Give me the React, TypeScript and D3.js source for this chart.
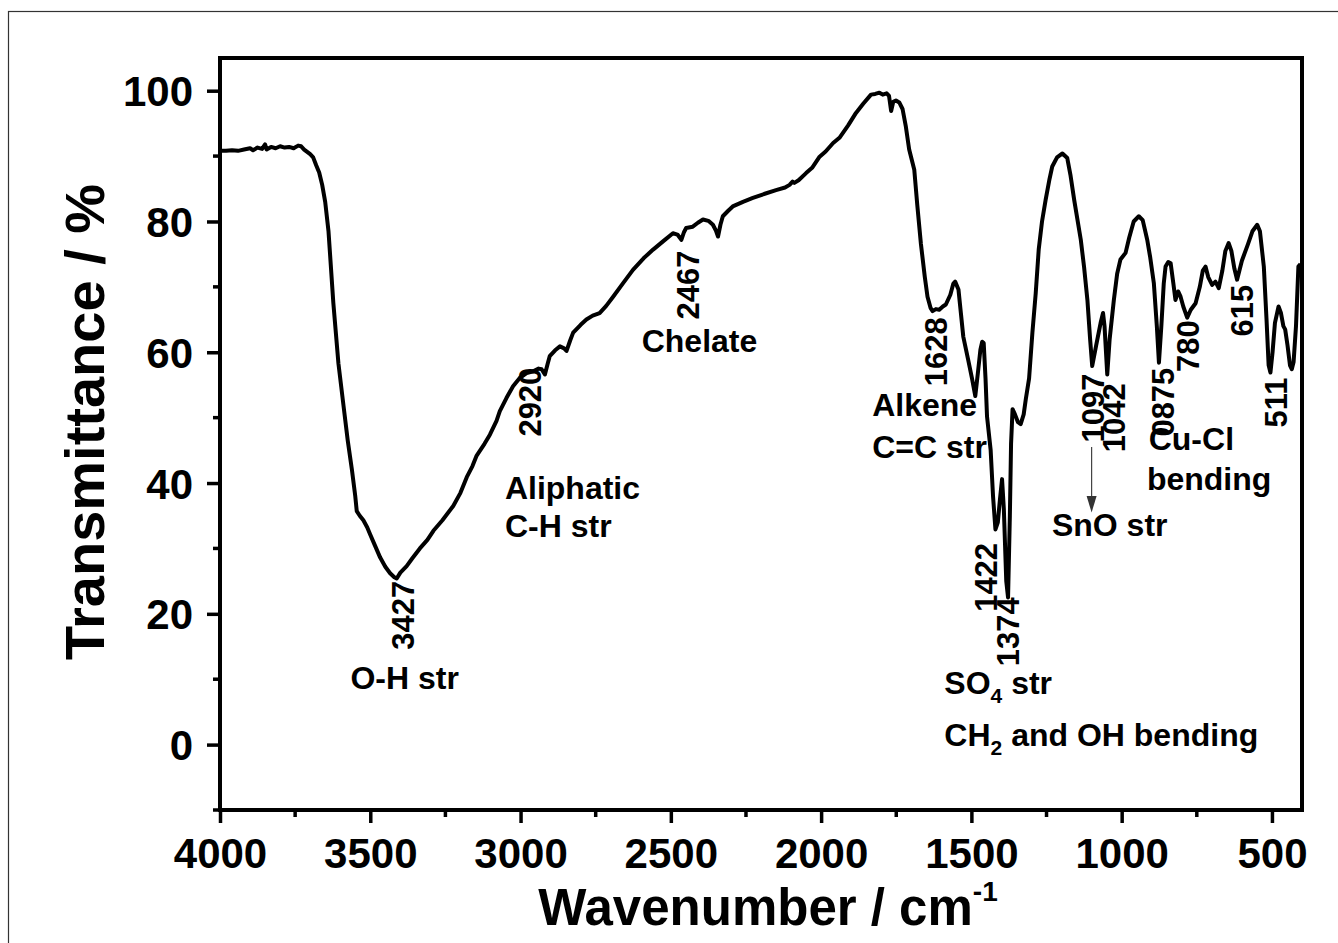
import React, { useEffect, useRef } from 'react';
import * as d3 from 'd3';

// spectrum (cm-1, %T)
const wavenumber = [
  4000, 3980, 3960, 3940, 3920, 3900, 3890, 3875, 3860, 3850, 3845, 3830, 3815, 3800, 3785, 3770, 3755, 3740, 3730, 3720,
  3700, 3690, 3680, 3670, 3660, 3650, 3639, 3623, 3606, 3589, 3575, 3561, 3550, 3545, 3535, 3523, 3510, 3501, 3485, 3467,
  3450, 3434, 3420, 3412, 3400, 3379, 3360, 3335, 3310, 3290, 3260, 3224, 3200, 3179, 3160, 3146, 3120, 3102, 3080, 3069,
  3047, 3025, 3002, 2980, 2958, 2940, 2930, 2919, 2910, 2903, 2885, 2869, 2855, 2847, 2835, 2825, 2800, 2781, 2760, 2737,
  2715, 2692, 2660, 2626, 2590, 2559, 2525, 2493, 2478, 2465, 2456, 2449, 2427, 2410, 2393, 2375, 2360, 2350, 2343, 2335,
  2327, 2310, 2294, 2260, 2227, 2190, 2150, 2120, 2105, 2095, 2089, 2075, 2050, 2030, 2005, 1985, 1960, 1939, 1910, 1884,
  1860, 1834, 1820, 1806, 1795, 1782, 1774, 1767, 1760, 1751, 1740, 1729, 1718, 1707, 1690, 1680, 1668, 1655, 1646, 1636,
  1629, 1618, 1607, 1595, 1585, 1570, 1560, 1554, 1543, 1535, 1527, 1511, 1498, 1487, 1478, 1470, 1464, 1459, 1453, 1448,
  1436, 1428, 1420, 1412, 1405, 1398, 1392, 1384, 1378, 1372, 1368, 1363, 1355, 1345, 1336, 1326, 1319, 1308, 1297, 1286,
  1276, 1265, 1253, 1240, 1231, 1215, 1197, 1181, 1170, 1158, 1136, 1125, 1114, 1105, 1098, 1085, 1070, 1062, 1057, 1048,
  1040, 1026, 1015, 1004, 987, 975, 960, 943, 930, 915, 905, 893, 883, 876, 868, 860, 854, 845, 837, 828,
  821, 812, 804, 795, 782, 770, 754, 740, 730, 721, 712, 699, 688, 677, 665, 655, 644, 635, 625, 616,
  600, 580, 565, 549, 540, 527, 518, 511, 505, 498, 490, 478, 470, 462, 456, 448, 440, 434, 428, 420,
  412, 405,
];
const transmittance = [
  90.8, 90.8, 90.9, 90.8, 91.0, 91.2, 90.9, 91.3, 91.1, 91.8, 91.0, 91.4, 91.2, 91.5, 91.3, 91.4, 91.2, 91.6, 91.5, 91.0,
  90.3, 89.8, 88.6, 87.5, 85.6, 83.0, 78.5, 67.6, 58.3, 51.8, 46.5, 42.0, 38.0, 35.7, 35.0, 34.3, 33.2, 32.2, 30.5, 28.6,
  27.2, 26.2, 25.6, 25.4, 26.3, 27.3, 28.5, 30.0, 31.3, 32.7, 34.3, 36.5, 38.5, 40.9, 42.6, 44.2, 46.0, 47.4, 49.5, 51.0,
  53.0, 54.8, 56.1, 56.8, 57.1, 57.5, 57.4, 56.6, 58.2, 59.4, 60.3, 60.9, 60.6, 60.2, 61.8, 63.0, 64.2, 65.0, 65.6, 66.0,
  67.1, 68.5, 70.5, 72.6, 74.4, 75.7, 77.0, 78.2, 78.0, 77.2, 78.4, 79.0, 79.2, 79.8, 80.3, 80.1, 79.5, 78.6, 77.7, 79.5,
  80.8, 81.6, 82.3, 83.0, 83.6, 84.2, 84.8, 85.2, 85.6, 86.1, 85.9, 86.3, 87.4, 88.2, 89.9, 90.7, 92.0, 92.8, 94.7, 96.6,
  98.0, 99.4, 99.5, 99.7, 99.4, 99.6, 99.2, 96.9, 98.3, 98.5, 98.2, 97.2, 94.5, 91.0, 87.9, 82.5, 76.6, 71.5, 68.5, 66.8,
  66.3, 66.6, 66.5, 67.0, 67.3, 68.8, 70.5, 70.8, 69.6, 66.0, 62.4, 58.9, 56.0, 53.3, 57.0, 60.4, 61.6, 61.4, 56.0, 50.2,
  45.1, 38.0, 32.9, 34.0, 37.5, 40.6, 36.0, 25.0, 22.5, 35.0, 46.0, 51.3, 50.5, 49.3, 49.0, 50.5, 52.8, 56.0, 63.0, 69.0,
  75.7, 80.0, 83.3, 86.5, 88.4, 89.8, 90.4, 89.7, 87.0, 83.3, 77.2, 73.0, 68.0, 62.0, 57.9, 61.0, 64.5, 66.0, 64.0, 56.6,
  62.0, 68.0, 72.0, 74.2, 75.2, 77.5, 80.0, 80.8, 80.2, 77.2, 74.5, 70.6, 64.0, 58.4, 64.0, 70.5, 73.1, 73.8, 73.6, 70.5,
  68.0, 69.3, 68.5, 67.0, 65.3, 66.5, 67.5, 70.0, 72.5, 73.1, 71.5, 70.3, 70.8, 69.8, 72.5, 75.5, 76.7, 75.5, 72.8, 71.1,
  74.0, 76.5, 78.5, 79.5, 78.5, 73.1, 65.0, 58.0, 56.9, 60.0, 64.5, 67.0, 66.0, 64.0, 63.5, 61.0, 58.0, 57.4, 58.5, 64.0,
  73.1, 73.5,
];

const xTicks = [4000, 3500, 3000, 2500, 2000, 1500, 1000, 500];
const xMinor = [3750, 3250, 2750, 2250, 1750, 1250, 750];
const yTicks = [0, 20, 40, 60, 80, 100];
const yMinor = [-10, 10, 30, 50, 70, 90];

// rotated peak labels: text, wavenumber of label centre, %T of label start
const peakText = ['3427', '2920', '2467', '1628', '1422', '1374', '1097', '1042', '0875', '780', '615', '511'];
const peakW = [3391, 2969, 2444, 1617, 1451, 1378, 1095, 1025, 862, 779, 600, 487];
const peakT = [14.5, 47.1, 65, 54.8, 20.3, 12, 46.2, 44.7, 47.1, 57, 62.4, 48.5];

// horizontal assignment notes: text, wavenumber of left edge, %T of baseline
const noteText = ['O-H str', 'Aliphatic', 'C-H str', 'Chelate', 'Alkene', 'C=C str', 'SnO str', 'Cu-Cl', 'bending'];
const noteW = [3566, 3052, 3052, 2597, 1830, 1830, 1232, 910, 916];
const noteT = [8.5, 37.5, 31.7, 60.1, 50.2, 43.9, 31.9, 45.1, 39];

const width = 1338;
const height = 943;
const margin = { top: 58, right: 36, bottom: 133, left: 220 };
const font = "'Liberation Sans', Arial, sans-serif";

const App = () => {
  const svgRef = useRef(null);

  useEffect(() => {
    const svg = d3.select(svgRef.current);
    svg.selectAll('*').remove();

    const innerWidth = width - margin.left - margin.right;
    const innerHeight = height - margin.top - margin.bottom;

    const x = d3.scaleLinear().domain([4000, 400]).range([margin.left, margin.left + innerWidth]);
    const y = d3.scaleLinear().domain([-10, 105]).range([margin.top + innerHeight, margin.top]);

    svg.append('rect')
      .attr('x', 8.5).attr('y', 11.5)
      .attr('width', width).attr('height', height)
      .attr('fill', '#fff').attr('stroke', '#333').attr('stroke-width', 1.2);

    const xAxis = svg.append('g')
      .attr('transform', `translate(0,${margin.top + innerHeight})`)
      .call(d3.axisBottom(x).tickValues(xTicks).tickSize(13).tickSizeOuter(0).tickFormat(d3.format('d')));
    xAxis.select('.domain').remove();
    xAxis.selectAll('line').attr('stroke', '#000').attr('stroke-width', 3.5);
    xAxis.selectAll('text')
      .attr('font-family', font).attr('font-weight', 'bold').attr('font-size', 42)
      .attr('fill', '#000').attr('y', 58).attr('dy', 0);

    xAxis.selectAll('.minor').data(xMinor).enter().append('line')
      .attr('x1', d => x(d)).attr('x2', d => x(d))
      .attr('y1', 0).attr('y2', 7)
      .attr('stroke', '#000').attr('stroke-width', 3.5);

    const yAxis = svg.append('g')
      .attr('transform', `translate(${margin.left},0)`)
      .call(d3.axisLeft(y).tickValues(yTicks).tickSize(13).tickSizeOuter(0));
    yAxis.select('.domain').remove();
    yAxis.selectAll('line').attr('stroke', '#000').attr('stroke-width', 3.5);
    yAxis.selectAll('text')
      .attr('font-family', font).attr('font-weight', 'bold').attr('font-size', 42)
      .attr('fill', '#000').attr('x', -27).attr('dy', '0.36em');

    yAxis.selectAll('.minor').data(yMinor).enter().append('line')
      .attr('x1', -7).attr('x2', 0)
      .attr('y1', d => y(d)).attr('y2', d => y(d))
      .attr('stroke', '#000').attr('stroke-width', 3.5);

    const line = d3.line()
      .x((d, i) => x(wavenumber[i]))
      .y(d => y(d));

    svg.append('path')
      .datum(transmittance)
      .attr('d', line)
      .attr('fill', 'none')
      .attr('stroke', '#000')
      .attr('stroke-width', 4)
      .attr('stroke-linejoin', 'round');

    svg.append('rect')
      .attr('x', margin.left).attr('y', margin.top)
      .attr('width', innerWidth).attr('height', innerHeight)
      .attr('fill', 'none').attr('stroke', '#000').attr('stroke-width', 4);

    const peaks = svg.append('g')
      .attr('font-family', font).attr('font-weight', 'bold').attr('font-size', 31).attr('fill', '#000');
    peakText.forEach((t, i) => {
      peaks.append('text')
        .attr('transform', `translate(${x(peakW[i])},${y(peakT[i])}) rotate(-90)`)
        .attr('dy', '0.36em')
        .text(t);
    });

    const notes = svg.append('g')
      .attr('font-family', font).attr('font-weight', 'bold').attr('font-size', 32).attr('fill', '#000');
    noteText.forEach((t, i) => {
      notes.append('text')
        .attr('x', x(noteW[i])).attr('y', y(noteT[i]))
        .text(t);
    });

    const so4 = notes.append('text').attr('x', x(1590)).attr('y', y(7.7));
    so4.append('tspan').text('SO');
    so4.append('tspan').attr('font-size', 21).attr('dy', 9).text('4');
    so4.append('tspan').attr('dy', -9).text(' str');

    const ch2 = notes.append('text').attr('x', x(1590)).attr('y', y(-0.2));
    ch2.append('tspan').text('CH');
    ch2.append('tspan').attr('font-size', 21).attr('dy', 9).text('2');
    ch2.append('tspan').attr('dy', -9).text(' and OH bending');

    // arrow from the 1097 label down to "SnO str"
    svg.append('line')
      .attr('x1', x(1100)).attr('x2', x(1100))
      .attr('y1', y(45.5)).attr('y2', y(37.5))
      .attr('stroke', '#444').attr('stroke-width', 1.2);
    svg.append('path')
      .attr('d', `M${x(1100) - 5},${y(38)} L${x(1100) + 5},${y(38)} L${x(1100)},${y(35.5)} Z`)
      .attr('fill', '#333');

    svg.append('text')
      .attr('x', 768)
      .attr('y', 925)
      .attr('text-anchor', 'middle')
      .attr('font-family', font).attr('font-weight', 'bold').attr('font-size', 51)
      .call(t => {
        t.append('tspan').text('Wavenumber / cm');
        t.append('tspan').attr('font-size', 28).attr('dy', -24).text('-1');
      });

    svg.append('text')
      .attr('transform', `translate(104,${422}) rotate(-90)`)
      .attr('text-anchor', 'middle')
      .attr('font-family', font).attr('font-weight', 'bold').attr('font-size', 56)
      .text('Transmittance / %');
  }, []);

  return (
    <svg ref={svgRef} width={width} height={height}
      style={{ position: 'absolute', left: 0, top: 0, background: '#fff' }} />
  );
};

export default App;
